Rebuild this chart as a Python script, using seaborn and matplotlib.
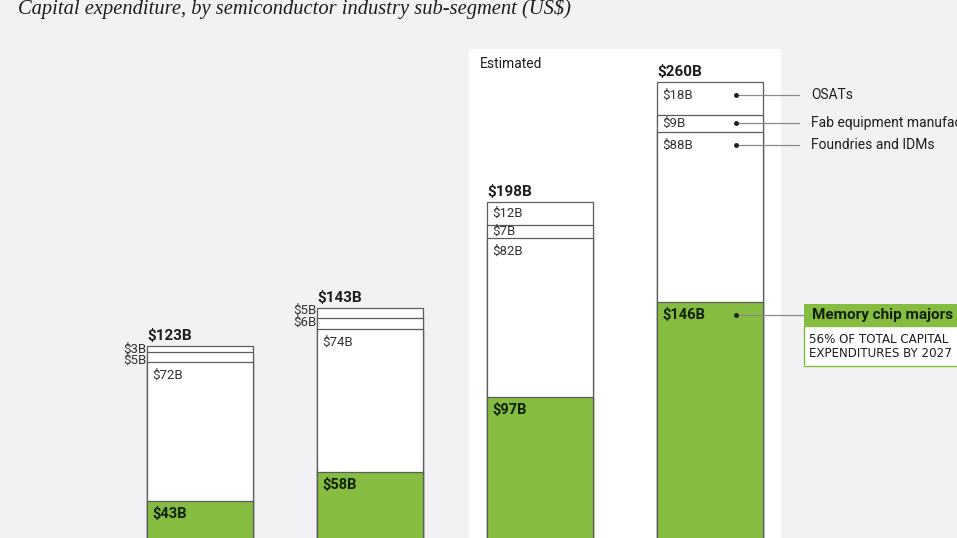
import numpy as np
import matplotlib
matplotlib.use('Agg')
import matplotlib.pyplot as plt
from matplotlib import font_manager
from matplotlib.patches import Rectangle
import seaborn as sns

# Capex by semiconductor sub-segment (US$ B), segments listed bottom to top
years = ['2021', '2022', '2025E', '2027E']
memory = [43, 58, 97, 146]
foundries = [72, 74, 82, 88]
fab_equipment = [5, 6, 7, 9]
osats = [3, 5, 12, 18]
totals = [123, 143, 198, 260]
segment_names = ['Memory chip majors', 'Foundries and IDMs',
                 'Fab equipment manufacturers', 'OSATs']
note = '56% OF TOTAL CAPITAL\nEXPENDITURES BY 2027'

GREEN = '#86bc40'
BG = '#f2f2f4'
EDGE = '#5c5c5c'
INK = '#1e1e1e'

sns.set_style('white')
names = {f.name for f in font_manager.fontManager.ttflist}
narrow = 'Liberation Sans Narrow' if 'Liberation Sans Narrow' in names else 'Roboto'
plt.rcParams['font.family'] = [narrow, 'DejaVu Sans']

W, H = 957, 538
fig = plt.figure(figsize=(W / 100, H / 100), dpi=100, facecolor=BG)
ax = fig.add_axes([0, 0, 1, 1])
ax.set_facecolor(BG)

# pixel scale of the layout: 170 px per category, 1.931 px per $B, baseline below the crop
PXC, PXV, X0, Y0 = 170.0, 1.931, 200.0, 584.0
dx = lambda p: p / PXC
dy = lambda p: p / PXV

# estimated panel
ax.axvspan(2 - dx(71), 3 + dx(71), ymin=0, ymax=1 - 49 / H, color='white', zorder=0, lw=0)

c1 = np.array(memory)
c2 = c1 + np.array(foundries)
c3 = c2 + np.array(fab_equipment)
c4 = np.array(totals)
bar_w = 106 / PXC

for heights, col in [(c4, 'white'), (c3, 'white'), (c2, 'white'), (c1, GREEN)]:
    sns.barplot(x=years, y=heights, color=col, saturation=1, width=bar_w,
                edgecolor=EDGE, linewidth=0.9, errorbar=None, ax=ax, zorder=2)

ax.set_xlim(-X0 / PXC, (W - X0) / PXC)
ax.set_ylim((Y0 - H) / PXV, Y0 / PXV)
ax.axis('off')

tops = [c1, c2, c3, c4]
bottoms = [np.zeros(4), c1, c2, c3]
values = [memory, foundries, fab_equipment, osats]
label_y = {}

for i in range(len(years)):
    left = i - bar_w / 2
    ax.text(left, totals[i] + dy(3), f'${totals[i]}B', ha='left', va='bottom',
            fontsize=11, fontweight='bold', color=INK, zorder=5)
    outside = []
    for k in range(3, -1, -1):
        top, bot, v = tops[k][i], bottoms[k][i], values[k][i]
        mid = (top + bot) / 2
        if v < 7:
            outside.append(f'${v}B')
            continue
        y = max(top - dy(13), mid)
        label_y[(i, k)] = y
        bold = k == 0
        ax.text(left + dx(5), y, f'${v}B', ha='left', va='center',
                fontsize=10.5 if bold else 9.5, fontweight='bold' if bold else 'normal',
                color='#10200a' if bold else '#333333', zorder=5)
    if outside:
        # thin top segments are labelled in a tight stack left of the bar
        ax.text(left - dx(1), totals[i] + dy(4), '\n'.join(outside), ha='right', va='top',
                fontsize=9.5, linespacing=0.85, color='#333333', zorder=5)

ax.text(2 - dx(60), Y0 / PXV - dy(64), 'Estimated', ha='left', va='center',
        fontsize=10, color=INK, zorder=5)

# callouts from the last bar
last = len(years) - 1
dot_x = last + dx(26)
for k in range(4):
    y = label_y[(last, k)]
    ax.plot([dot_x], [y], marker='o', ms=2.5, color=INK, zorder=6)
    end = last + dx(94 if k == 0 else 89)
    ax.plot([dot_x, end], [y, y], color='#8a8a8a', lw=0.9, zorder=4, clip_on=False)
    if k > 0:
        ax.text(last + dx(101), y, segment_names[k], ha='left', va='center',
                fontsize=10, color=INK, zorder=5)

y = label_y[(last, 0)]
bx = last + dx(94)
ax.add_patch(Rectangle((bx, y - dy(11)), dx(200), dy(22), facecolor=GREEN,
                       edgecolor='none', zorder=4, clip_on=False))
ax.add_patch(Rectangle((bx, y - dy(51)), dx(200), dy(40), facecolor='white',
                       edgecolor=GREEN, lw=1, zorder=4, clip_on=False))
ax.text(last + dx(102), y, segment_names[0], ha='left', va='center',
        fontsize=11, fontweight='bold', color='#10200a', zorder=5)
ax.text(last + dx(99), y - dy(31), note, ha='left', va='center', linespacing=1.1,
        fontsize=8.6, color=INK, family=['DejaVu Sans'], zorder=5)

fig.text(18 / W, 1 - 9 / H, 'Capital expenditure, by semiconductor industry sub-segment (US$)',
         ha='left', va='center', fontsize=14.8, style='italic',
         family=['Liberation Serif', 'DejaVu Serif'], color=INK)

fig.savefig('out.png', dpi=100, facecolor=BG)
